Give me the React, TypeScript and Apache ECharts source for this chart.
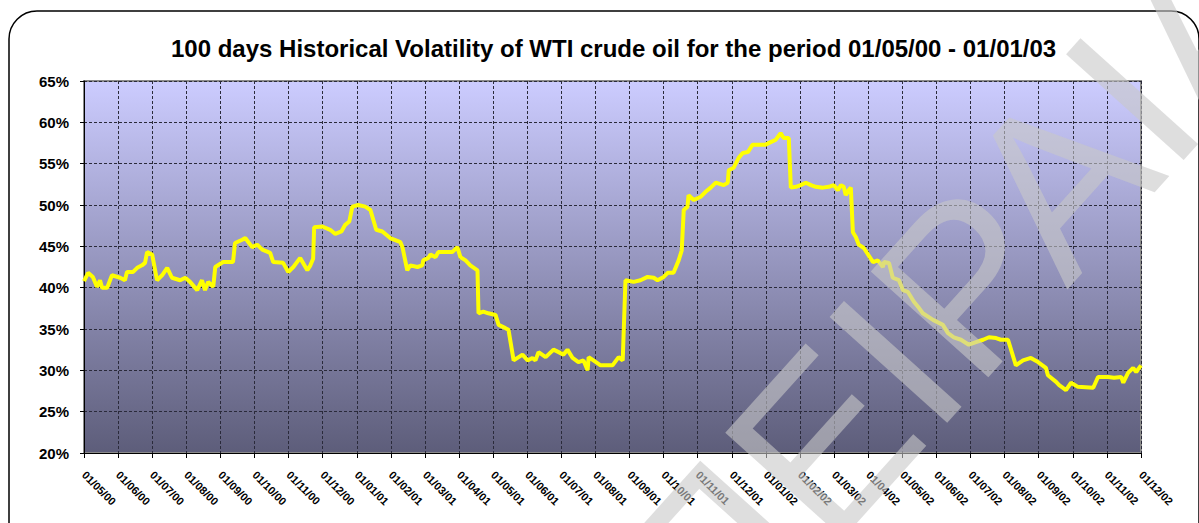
import React, { useEffect, useRef } from "react";
import * as echarts from "echarts";

const TITLE = "100 days Historical Volatility of WTI crude oil for the period 01/05/00 - 01/01/03";

// Month labels (dd/mm/yy), one per vertical grid line
const monthLabels = [
  "01/05/00", "01/06/00", "01/07/00", "01/08/00", "01/09/00", "01/10/00", "01/11/00", "01/12/00",
  "01/01/01", "01/02/01", "01/03/01", "01/04/01", "01/05/01", "01/06/01", "01/07/01", "01/08/01",
  "01/09/01", "01/10/01", "01/11/01", "01/12/01", "01/01/02", "01/02/02", "01/03/02", "01/04/02",
  "01/05/02", "01/06/02", "01/07/02", "01/08/02", "01/09/02", "01/10/02", "01/11/02", "01/12/02",
];

// Position in months since 01/05/00
const monthPos = [
  0.00, 0.12, 0.26, 0.38, 0.47, 0.53, 0.68, 0.82, 1.06, 1.20, 1.26, 1.44, 1.56, 1.70, 1.79, 1.85,
  2.00, 2.14, 2.29, 2.44, 2.58, 2.82, 2.97, 3.11, 3.32, 3.46, 3.55, 3.64, 3.79, 3.85, 4.08, 4.37,
  4.43, 4.64, 4.73, 4.93, 5.08, 5.23, 5.46, 5.55, 5.84, 5.99, 6.14, 6.34, 6.55, 6.64, 6.72, 6.75,
  6.99, 7.22, 7.37, 7.55, 7.66, 7.78, 7.87, 8.04, 8.25, 8.40, 8.57, 8.75, 8.98, 9.28, 9.34, 9.48,
  9.57, 9.78, 9.92, 9.95, 10.10, 10.16, 10.31, 10.39, 10.80, 10.95, 11.04, 11.19, 11.33, 11.54, 11.57, 11.71,
  11.86, 12.07, 12.16, 12.36, 12.45, 12.60, 12.86, 13.01, 13.15, 13.24, 13.33, 13.54, 13.77, 13.92, 14.06, 14.18,
  14.33, 14.50, 14.65, 14.77, 14.80, 14.94, 15.15, 15.50, 15.68, 15.80, 15.88, 16.12, 16.32, 16.53, 16.71, 16.82,
  17.00, 17.12, 17.29, 17.44, 17.53, 17.59, 17.70, 17.73, 17.88, 18.09, 18.23, 18.38, 18.53, 18.76, 18.88, 18.91,
  19.05, 19.20, 19.32, 19.47, 19.61, 19.99, 20.14, 20.29, 20.43, 20.52, 20.67, 20.73, 20.88, 21.02, 21.17, 21.32,
  21.46, 21.67, 21.84, 21.99, 22.11, 22.20, 22.28, 22.34, 22.43, 22.49, 22.55, 22.64, 22.72, 22.87, 23.14, 23.28,
  23.43, 23.46, 23.61, 23.72, 23.90, 24.02, 24.16, 24.34, 24.46, 24.60, 24.90, 25.19, 25.34, 25.51, 25.72, 25.95,
  26.16, 26.37, 26.54, 26.75, 26.89, 27.10, 27.33, 27.54, 27.77, 27.98, 28.21, 28.27, 28.51, 28.60, 28.80, 28.95,
  29.15, 29.60, 29.74, 30.04, 30.21, 30.42, 30.48, 30.62, 30.77, 30.86, 31.00,
];

// 100-day historical volatility, %
const volatility = [
  40.8, 41.8, 41.3, 40.1, 40.9, 40.0, 40.0, 41.5, 41.2, 40.9, 41.9, 41.9, 42.4, 42.7, 43.0, 44.3,
  44.0, 40.9, 41.5, 42.4, 41.2, 40.9, 41.2, 40.7, 39.7, 40.9, 39.7, 40.7, 40.1, 42.5, 43.1, 43.1,
  45.4, 45.8, 46.0, 44.9, 45.2, 44.6, 44.2, 43.1, 43.0, 41.9, 42.5, 43.6, 42.1, 42.7, 43.5, 47.3,
  47.4, 47.0, 46.5, 46.8, 47.6, 48.0, 49.8, 50.0, 49.8, 49.4, 47.0, 46.8, 46.0, 45.5, 44.9, 42.1,
  42.7, 42.5, 42.7, 43.3, 43.6, 44.0, 43.7, 44.3, 44.3, 44.9, 43.7, 43.3, 42.7, 42.1, 36.9, 37.1,
  36.9, 36.7, 35.5, 35.1, 34.9, 31.2, 31.9, 31.2, 31.5, 31.2, 32.2, 31.6, 32.5, 32.2, 31.9, 32.5,
  31.5, 31.0, 31.2, 30.0, 31.6, 31.2, 30.6, 30.6, 31.6, 31.2, 40.9, 40.7, 40.9, 41.3, 41.2, 40.9,
  41.3, 41.8, 41.8, 43.3, 44.5, 49.4, 49.8, 51.2, 50.6, 51.0, 51.6, 52.1, 52.7, 52.4, 52.7, 54.2,
  54.5, 55.7, 56.3, 56.4, 57.3, 57.3, 57.6, 57.9, 58.7, 58.1, 58.1, 52.1, 52.2, 52.4, 52.7, 52.4,
  52.2, 52.1, 52.2, 52.4, 51.8, 52.4, 52.2, 51.2, 51.8, 52.1, 46.7, 46.1, 45.2, 44.8, 43.1, 43.3,
  42.5, 43.1, 43.0, 41.2, 40.9, 39.7, 39.5, 38.3, 37.7, 36.9, 36.1, 35.5, 34.5, 34.0, 33.7, 33.1,
  33.4, 33.7, 34.0, 33.9, 33.7, 33.7, 30.6, 31.2, 31.5, 31.0, 30.3, 29.4, 28.6, 28.2, 27.6, 28.5,
  28.0, 27.9, 29.2, 29.2, 29.1, 29.2, 28.5, 29.7, 30.3, 29.8, 30.6,
];

const yTicks = { min: 20, max: 65, step: 5 };

export default function App() {
  const ref = useRef<HTMLDivElement>(null);

  useEffect(() => {
    if (!ref.current) return;
    const chart = echarts.init(ref.current, undefined, { renderer: "svg" });
    const data = monthPos.map((m, i) => [m, volatility[i]]);

    chart.setOption({
      animation: false,
      backgroundColor: "#ffffff",
      title: {
        text: TITLE,
        left: 166,
        top: 31,
        textStyle: { fontFamily: "Arial", fontWeight: "bold", fontSize: 24, color: "#000" },
      },
      grid: {
        left: 84,
        right: 58,
        top: 81,
        bottom: 70,
        show: true,
        borderColor: "#8a8a8a",
        borderWidth: 2,
        backgroundColor: new echarts.graphic.LinearGradient(0, 0, 0, 1, [
          { offset: 0, color: "#CCCCFF" },
          { offset: 1, color: "#5D5D7A" },
        ]),
      },
      xAxis: {
        type: "value",
        min: 0,
        max: monthLabels.length - 1,
        interval: 1,
        axisLine: { show: true, onZero: false, lineStyle: { color: "#000", width: 1 } },
        axisTick: { show: true, length: 5, lineStyle: { color: "#000" } },
        splitLine: { show: true, lineStyle: { color: "#2a2a3a", width: 1, type: [3, 2] } },
        axisLabel: {
          rotate: -45,
          margin: 20,
          fontFamily: "Arial",
          fontWeight: "bold",
          fontSize: 11,
          color: "#000",
          formatter: (v: number) => monthLabels[Math.round(v)] ?? "",
        },
      },
      yAxis: {
        type: "value",
        min: yTicks.min,
        max: yTicks.max,
        interval: yTicks.step,
        axisLine: { show: true, lineStyle: { color: "#000", width: 1 } },
        axisTick: { show: true, length: 4, lineStyle: { color: "#000" } },
        splitLine: { show: true, lineStyle: { color: "#2a2a3a", width: 1, type: [3, 2] } },
        axisLabel: {
          margin: 15,
          fontFamily: "Arial",
          fontWeight: "bold",
          fontSize: 15,
          color: "#000",
          formatter: (v: number) => `${v}%`,
        },
      },
      series: [
        {
          type: "line",
          data,
          showSymbol: false,
          symbol: "none",
          lineStyle: { color: "#FFFF00", width: 4 },
          z: 3,
        },
      ],
      graphic: [
        {
          type: "rect",
          silent: true,
          z: -10,
          shape: { x: 9, y: 11, width: 1190, height: 545, r: 28 },
          style: { fill: "none", stroke: "#000", lineWidth: 1.5 },
        },
        {
          type: "text",
          silent: true,
          z: 100,
          x: 958,
          y: 292,
          rotation: (48 * Math.PI) / 180,
          style: {
            text: "ΠΕΙΡΑΙΑ",
            font: "230px Arial",
            fill: "rgba(200,200,200,0.6)",
            textAlign: "center",
            textVerticalAlign: "middle",
          },
        },
      ],
    });

    return () => chart.dispose();
  }, []);

  return (
    <div
      ref={ref}
      style={{ position: "fixed", left: 0, top: 0, width: 1199, height: 523 }}
    />
  );
}
